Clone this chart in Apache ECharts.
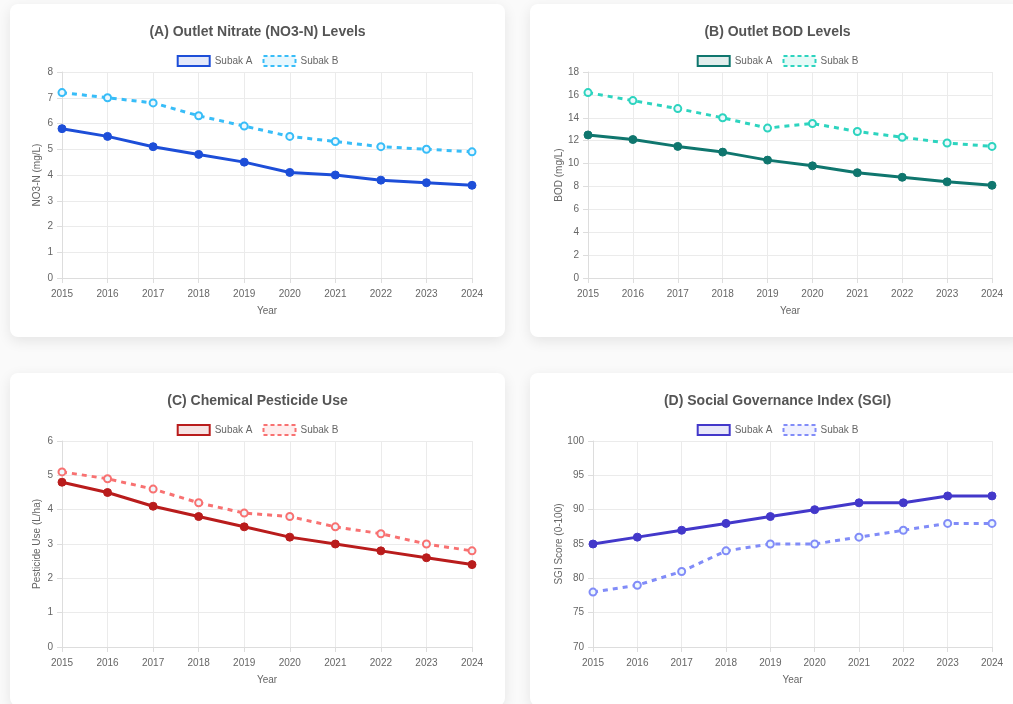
<!DOCTYPE html>
<html>
<head>
<meta charset="utf-8">
<script src="https://cdn.jsdelivr.net/npm/echarts@6/dist/echarts.min.js"></script>
<style>
  html, body { margin: 0; padding: 0; background: #fafafa; overflow: hidden; }
  body { width: 1013px; height: 704px; position: relative; font-family: "Liberation Sans", Arial, sans-serif; }
  .card {
    position: absolute; width: 495px; height: 333px; background: #fff;
    border-radius: 8px; box-shadow: 0 4px 14px rgba(0,0,0,0.09);
  }
  .chart { width: 100%; height: 100%; }
</style>
</head>
<body>
<div class="card" style="left:10px;top:4px"><div id="chartA" class="chart"></div></div>
<div class="card" style="left:530px;top:4px"><div id="chartB" class="chart"></div></div>
<div class="card" style="left:10px;top:373px"><div id="chartC" class="chart"></div></div>
<div class="card" style="left:530px;top:373px"><div id="chartD" class="chart"></div></div>
<script>
// values
const years = ['2015', '2016', '2017', '2018', '2019', '2020', '2021', '2022', '2023', '2024'];
const seriesNames = ['Subak A', 'Subak B'];

const nitrateA = [5.8, 5.5, 5.1, 4.8, 4.5, 4.1, 4.0, 3.8, 3.7, 3.6];
const nitrateB = [7.2, 7.0, 6.8, 6.3, 5.9, 5.5, 5.3, 5.1, 5.0, 4.9];

const bodA = [12.5, 12.1, 11.5, 11.0, 10.3, 9.8, 9.2, 8.8, 8.4, 8.1];
const bodB = [16.2, 15.5, 14.8, 14.0, 13.1, 13.5, 12.8, 12.3, 11.8, 11.5];

const pestA = [4.8, 4.5, 4.1, 3.8, 3.5, 3.2, 3.0, 2.8, 2.6, 2.4];
const pestB = [5.1, 4.9, 4.6, 4.2, 3.9, 3.8, 3.5, 3.3, 3.0, 2.8];

const sgiA = [85, 86, 87, 88, 89, 90, 91, 91, 92, 92];
const sgiB = [78, 79, 81, 84, 85, 85, 86, 87, 88, 88];

const FONT = '"Liberation Sans", Arial, sans-serif';

function hexToRgba(hex, a) {
  var n = parseInt(hex.slice(1), 16);
  return 'rgba(' + (n >> 16) + ',' + ((n >> 8) & 255) + ',' + (n & 255) + ',' + a + ')';
}

function drawChart(domId, cfg) {
  var myChart = echarts.init(document.getElementById(domId));
  var option = {
    animation: false,
    textStyle: { fontFamily: FONT },
    title: {
      text: cfg.title,
      left: 'center',
      top: 16,
      textStyle: { fontSize: 14, fontWeight: 'bold', color: '#555', fontFamily: FONT }
    },
    legend: {
      top: 46,
      left: 'center',
      itemWidth: 32,
      itemHeight: 10,
      itemGap: 10,
      textStyle: { fontSize: 10, color: '#666', fontFamily: FONT },
      data: [
        {
          name: seriesNames[0], icon: 'rect',
          itemStyle: { color: hexToRgba(cfg.colorA, 0.12), borderColor: cfg.colorA, borderWidth: 2 }
        },
        {
          name: seriesNames[1], icon: 'rect',
          itemStyle: { color: hexToRgba(cfg.colorB, 0.12), borderColor: cfg.colorB, borderWidth: 2, borderType: [4, 3] }
        }
      ]
    },
    grid: { left: cfg.gridLeft, top: 68, width: 462 - cfg.gridLeft, height: 206 },
    xAxis: {
      type: 'category',
      data: years,
      boundaryGap: false,
      name: 'Year',
      nameLocation: 'middle',
      nameGap: 28,
      nameMoveOverlap: false,
      nameTextStyle: { fontSize: 10, color: '#666' },
      axisLine: { lineStyle: { color: '#ddd' } },
      axisTick: { show: true, length: 5, alignWithLabel: true, lineStyle: { color: '#ddd' } },
      axisLabel: { fontSize: 10, color: '#666', margin: 11 },
      splitLine: { show: true, lineStyle: { color: '#ebebeb' } }
    },
    yAxis: {
      type: 'value',
      min: cfg.min,
      max: cfg.max,
      interval: cfg.interval,
      name: cfg.yName,
      nameLocation: 'middle',
      nameGap: cfg.nameGap,
      nameMoveOverlap: false,
      nameTextStyle: { fontSize: 10, color: '#666' },
      axisLine: { show: true, lineStyle: { color: '#ddd' } },
      axisTick: { show: true, length: 5, lineStyle: { color: '#ddd' } },
      axisLabel: { fontSize: 10, color: '#666', margin: 9 },
      splitLine: { show: true, lineStyle: { color: '#ebebeb' } }
    },
    series: [
      {
        name: seriesNames[0],
        type: 'line',
        data: cfg.dataA,
        symbol: 'circle',
        symbolSize: 8,
        lineStyle: { color: cfg.colorA, width: 3 },
        itemStyle: { color: cfg.colorA, borderColor: cfg.colorA, borderWidth: 1 }
      },
      {
        name: seriesNames[1],
        type: 'line',
        data: cfg.dataB,
        symbol: 'circle',
        symbolSize: 7,
        lineStyle: { color: cfg.colorB, width: 3, type: [5, 5] },
        itemStyle: { color: '#eef8fd', borderColor: cfg.colorB, borderWidth: 2 }
      }
    ]
  };
  if (option && typeof option === "object") {
    myChart.setOption(option, true);
  }
}

drawChart('chartA', {
  title: '(A) Outlet Nitrate (NO3-N) Levels', yName: 'NO3-N (mg/L)',
  dataA: nitrateA, dataB: nitrateB, colorA: '#1d4ed8', colorB: '#38bdf8',
  min: 0, max: 8, interval: 1, gridLeft: 52, nameGap: 20
});
drawChart('chartB', {
  title: '(B) Outlet BOD Levels', yName: 'BOD (mg/L)',
  dataA: bodA, dataB: bodB, colorA: '#0f766e', colorB: '#2dd4bf',
  min: 0, max: 18, interval: 2, gridLeft: 58, nameGap: 24
});
drawChart('chartC', {
  title: '(C) Chemical Pesticide Use', yName: 'Pesticide Use (L/ha)',
  dataA: pestA, dataB: pestB, colorA: '#b91c1c', colorB: '#f87171',
  min: 0, max: 6, interval: 1, gridLeft: 52, nameGap: 20
});
drawChart('chartD', {
  title: '(D) Social Governance Index (SGI)', yName: 'SGI Score (0-100)',
  dataA: sgiA, dataB: sgiB, colorA: '#4338ca', colorB: '#818cf8',
  min: 70, max: 100, interval: 5, gridLeft: 63, nameGap: 29
});
</script>
</body>
</html>
